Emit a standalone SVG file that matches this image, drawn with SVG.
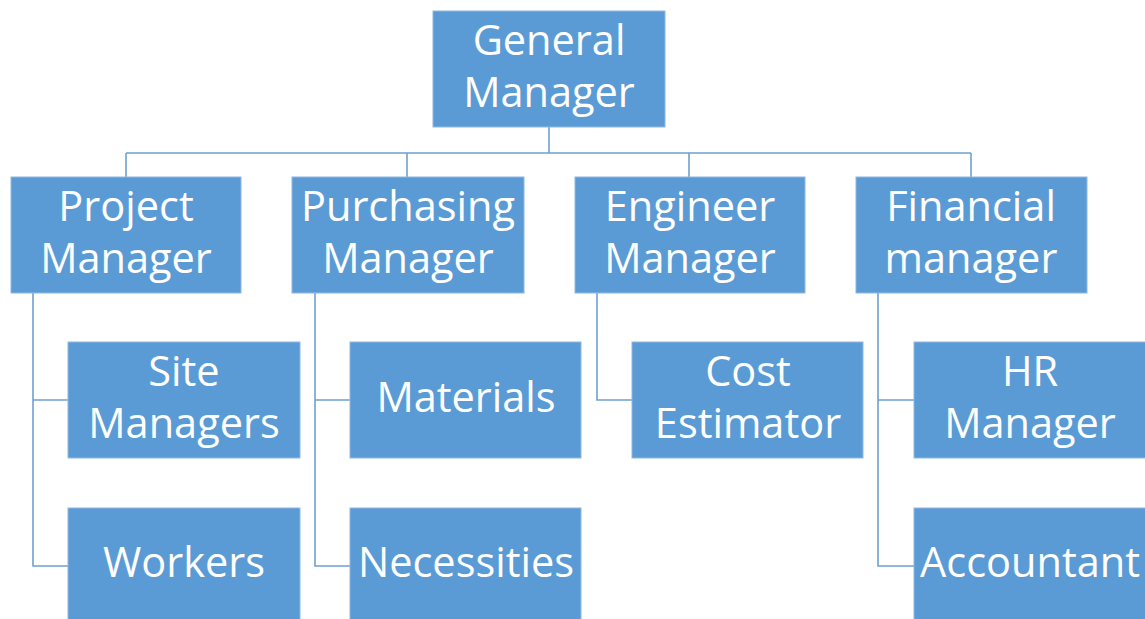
<svg xmlns="http://www.w3.org/2000/svg" width="1145" height="619" viewBox="0 0 1145 619">
<style>
.box{fill:#5B9BD5;stroke:#8FB8E2;stroke-width:1}
.t{font-family:"Open Sans","Noto Sans",sans-serif;font-size:41.5px;fill:#FFFFFF;text-anchor:middle}
.c{fill:none;stroke:#6FA0D2;stroke-width:1.6}
</style>
<rect width="1145" height="619" fill="#FFFFFF"/>
<g id="connectors">
<path class="c" d="M549 127V153M126 153H971M126 153V177M407 153V177M689 153V177M971 153V177"/>
<path class="c" d="M33 293V566H68M33 400H68"/>
<path class="c" d="M315 293V566H350M315 400H350"/>
<path class="c" d="M597 293V400H632"/>
<path class="c" d="M878 293V566H914M878 400H914"/>
</g>
<g id="general-manager"><rect class="box" x="433" y="11" width="232" height="116"/><text class="t" x="549" y="55">General</text><text class="t" x="549" y="107">Manager</text></g>
<g id="project-manager"><rect class="box" x="11" y="177" width="230" height="116"/><text class="t" x="126" y="221">Project</text><text class="t" x="126" y="273">Manager</text></g>
<g id="purchasing-manager"><rect class="box" x="292" y="177" width="232" height="116"/><text class="t" x="408" y="221">Purchasing</text><text class="t" x="408" y="273">Manager</text></g>
<g id="engineer-manager"><rect class="box" x="575" y="177" width="230" height="116"/><text class="t" x="690" y="221">Engineer</text><text class="t" x="690" y="273">Manager</text></g>
<g id="financial-manager"><rect class="box" x="856" y="177" width="231" height="116"/><text class="t" x="971" y="221">Financial</text><text class="t" x="971" y="273">manager</text></g>
<g id="site-managers"><rect class="box" x="68" y="342" width="232" height="116"/><text class="t" x="184" y="386">Site</text><text class="t" x="184" y="438">Managers</text></g>
<g id="workers"><rect class="box" x="68" y="508" width="232" height="116"/><text class="t" x="184" y="577">Workers</text></g>
<g id="materials"><rect class="box" x="350" y="342" width="231" height="116"/><text class="t" x="466" y="412">Materials</text></g>
<g id="necessities"><rect class="box" x="350" y="508" width="231" height="116"/><text class="t" x="466" y="577">Necessities</text></g>
<g id="cost-estimator"><rect class="box" x="632" y="342" width="231" height="116"/><text class="t" x="748" y="386">Cost</text><text class="t" x="748" y="438">Estimator</text></g>
<g id="hr-manager"><rect class="box" x="914" y="342" width="232" height="116"/><text class="t" x="1030" y="386">HR</text><text class="t" x="1030" y="438">Manager</text></g>
<g id="accountant"><rect class="box" x="914" y="508" width="232" height="116"/><text class="t" x="1030" y="577">Accountant</text></g>
</svg>
